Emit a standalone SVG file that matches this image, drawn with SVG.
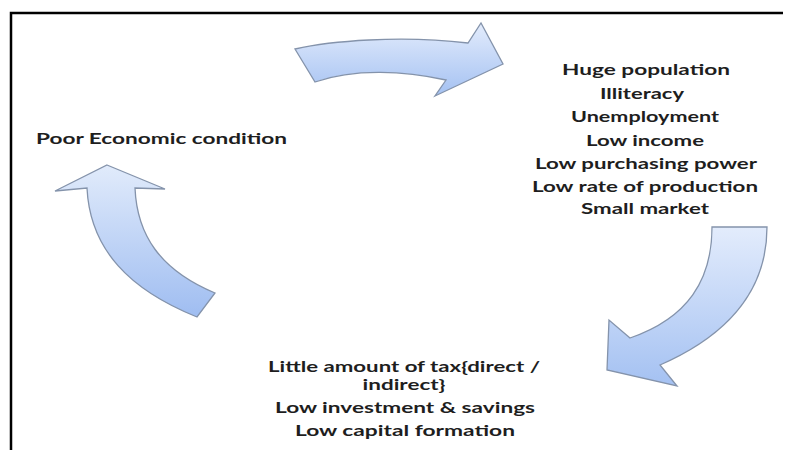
<svg xmlns="http://www.w3.org/2000/svg" width="785" height="450" viewBox="0 0 785 450">
  <defs>
    <linearGradient id="gArrow" x1="0" y1="0" x2="0" y2="1">
      <stop offset="0" stop-color="#e3ecfc"/>
      <stop offset="1" stop-color="#a4c1f2"/>
    </linearGradient>
    <linearGradient id="gArrowLeft" x1="0" y1="0" x2="0" y2="1">
      <stop offset="0" stop-color="#e1ebfb"/>
      <stop offset="1" stop-color="#9fbdf1"/>
    </linearGradient>
  </defs>
  <style>
    .frame { stroke: #000; stroke-width: 2.5; fill: none; }
    .arrow { stroke: #8493ab; stroke-width: 1.3; stroke-linejoin: miter; }
    .lbl { font-family: Lato, "Open Sans", "Liberation Sans", sans-serif; font-weight: bold; font-size: 15px; fill: #1e1e1e; }
    .c { text-anchor: middle; }
  </style>
  <rect width="785" height="450" fill="#fff"/>
  <path class="frame" d="M11,450 L11,13 L783,13"/>

  <g id="connectors">
    <path id="arrow-top" class="arrow" fill="url(#gArrow)" d="M295,49 C330,41 400,35 468,43 L481,23 L503,64 L435,96 L446,80 C405,71 355,68 315,82 Z"/>
    <path id="arrow-right" class="arrow" fill="url(#gArrow)" d="M712,227 L767,227 C767,280 740,330 660,365 L677,386 L607,370 L609,320 L630,338 C688,318 712,280 712,227 Z"/>
    <path id="arrow-left" class="arrow" fill="url(#gArrowLeft)" d="M107,165 L165,189 L135,188 C137,235 160,270 215,293 L197,317 C130,290 90,250 87,188 L55,191 Z"/>
  </g>

  <g id="node-poor-economic">
    <text class="lbl" x="36" y="144" textLength="251" lengthAdjust="spacingAndGlyphs">Poor Economic condition</text>
  </g>

  <g id="node-population">
    <text class="lbl c" x="646" y="75" textLength="168" lengthAdjust="spacingAndGlyphs">Huge population</text>
    <text class="lbl c" x="642" y="99" textLength="84" lengthAdjust="spacingAndGlyphs">Illiteracy</text>
    <text class="lbl c" x="645" y="122" textLength="148" lengthAdjust="spacingAndGlyphs">Unemployment</text>
    <text class="lbl c" x="645" y="146" textLength="118" lengthAdjust="spacingAndGlyphs">Low income</text>
    <text class="lbl c" x="646" y="169" textLength="222" lengthAdjust="spacingAndGlyphs">Low purchasing power</text>
    <text class="lbl c" x="645" y="192" textLength="226" lengthAdjust="spacingAndGlyphs">Low rate of production</text>
    <text class="lbl c" x="645" y="214" textLength="128" lengthAdjust="spacingAndGlyphs">Small market</text>
  </g>

  <g id="node-tax">
    <text class="lbl c" x="404" y="372" textLength="272" lengthAdjust="spacingAndGlyphs">Little amount of tax{direct /</text>
    <text class="lbl c" x="404" y="390" textLength="83" lengthAdjust="spacingAndGlyphs">indirect}</text>
    <text class="lbl c" x="405" y="413" textLength="260" lengthAdjust="spacingAndGlyphs">Low investment &amp; savings</text>
    <text class="lbl c" x="405" y="436" textLength="220" lengthAdjust="spacingAndGlyphs">Low capital formation</text>
  </g>
</svg>
